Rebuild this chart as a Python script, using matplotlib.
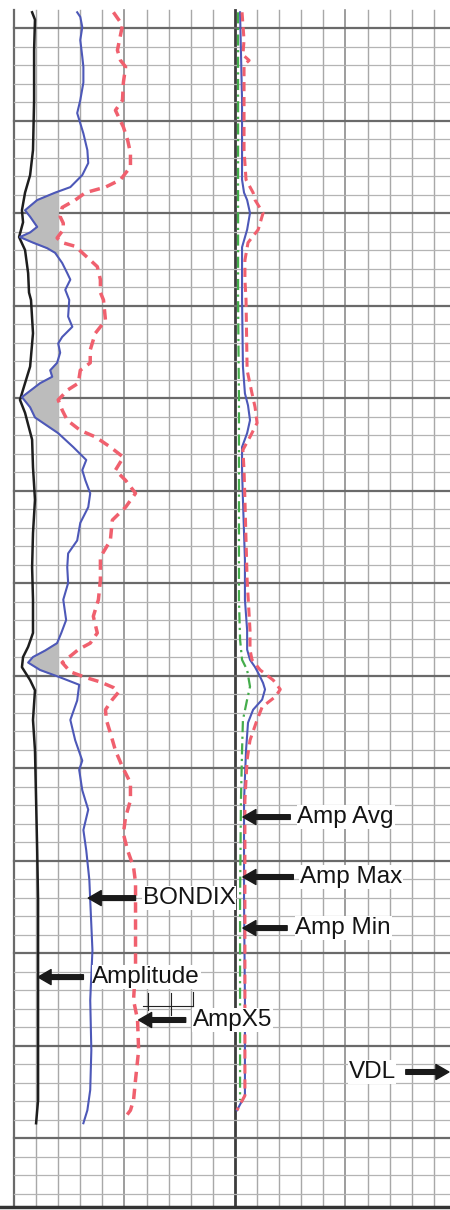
import numpy as np
import matplotlib
matplotlib.use('Agg')
import matplotlib.pyplot as plt

# depth in ft below first heavy line, amplitude in mV (track 1: 0-100, track 2: 0-100)
amp_depth = [-8.5, -4.5, 12, 39, 66, 79.5, 89, 98.5, 105, 113,
             120, 132.5, 143, 147, 165, 183, 195.5, 201, 208, 222.5,
             237.5, 255, 273, 291.5, 309, 327, 334.5, 340, 345.5, 352.5,
             358, 374, 390.5, 417.5, 444.5, 471.5, 525.5, 579.5, 592]
amplitude = [8.2, 9.5, 9.1, 9.1, 8.6, 7.3, 5.0, 3.6, 4.1, 2.3,
             5.0, 6.4, 6.8, 7.7, 8.6, 7.3, 4.1, 2.7, 5.0, 8.2,
             8.6, 9.5, 8.6, 8.2, 8.6, 8.6, 6.4, 4.1, 3.6, 7.3,
             9.5, 8.6, 9.5, 10.0, 10.5, 10.9, 10.9, 10.9, 10.0]

bond_depth = [-8.5, -6, -0.5, 6.5, 15.5, 21, 29.5, 39, 46, 57,
              66, 73, 79.5, 86, 89, 93, 98.5, 102, 107.5, 110.5,
              113, 116, 119, 121.5, 127, 132.5, 136, 141.5, 147, 156,
              161.5, 167, 170.5, 175.5, 181, 185, 188.5, 192, 199.5, 205,
              210.5, 213.5, 219, 226.5, 233.5, 239, 244.5, 251.5, 259, 267.5,
              277, 284, 291.5, 300, 309, 320, 327, 332.5, 336.5, 340,
              343, 347, 351, 355, 363.5, 374, 385, 396, 401, 412,
              417.5, 422.5, 433.5, 444.5, 460.5, 471.5, 498.5, 525.5, 552.5, 574,
              585, 592]
bondix = [28.6, 30.0, 30.9, 30.0, 30.9, 31.4, 31.4, 30.0, 28.6, 31.4,
          33.2, 33.6, 30.9, 25.5, 18.6, 10.5, 5.0, 7.3, 10.5, 7.3,
          2.7, 8.6, 15.0, 18.6, 21.8, 24.1, 25.5, 23.2, 25.0, 24.5,
          26.4, 21.8, 20.0, 20.9, 19.5, 16.4, 17.3, 11.8, 3.6, 7.3,
          9.5, 13.2, 20.0, 26.8, 32.7, 30.9, 32.3, 34.5, 33.6, 30.0,
          28.6, 24.5, 24.1, 24.5, 22.3, 23.6, 21.4, 19.5, 14.1, 8.6,
          6.4, 11.8, 20.9, 29.5, 28.6, 25.5, 27.7, 30.9, 29.5, 30.9,
          32.3, 33.6, 31.4, 32.7, 34.1, 34.5, 35.5, 34.5, 35.0, 34.5,
          33.2, 31.4]
bond_cutoff = 20

x5_depth = [-8.5, -1.5, 12, 17.5, 21, 29.5, 39, 44.5, 48, 53.5,
            60.5, 67.5, 75, 82, 86, 89, 93, 97, 102, 105.5,
            109, 113.5, 116, 118, 124, 129, 136, 143, 147, 158,
            165, 174, 181, 185, 192, 195.5, 201, 206.5, 212, 217.5,
            221, 226.5, 232, 239, 244.5, 251.5, 259, 266, 277, 286,
            298.5, 309, 318, 327, 332.5, 336, 340.5, 343, 348, 351,
            353.5, 356.5, 359, 363, 368.5, 374, 381, 390.5, 399.5, 408,
            417.5, 426.5, 435.5, 444.5, 453.5, 462, 507.5, 525.5, 536, 552.5,
            568.5, 579.5, 585, 588.5]
amp_x5 = [45.0, 49.1, 46.8, 48.2, 50.5, 49.5, 49.1, 45.9, 47.3, 49.5,
          51.4, 52.7, 52.7, 48.2, 41.4, 32.3, 27.7, 21.8, 20.9, 22.3,
          22.3, 19.5, 21.8, 27.7, 33.2, 37.7, 39.1, 39.1, 40.5, 41.4,
          36.8, 34.5, 34.5, 30.0, 29.1, 24.5, 20.0, 21.8, 24.1, 30.0,
          36.8, 43.6, 49.5, 45.9, 50.5, 55.0, 50.5, 44.5, 43.6, 39.1,
          39.1, 38.2, 35.9, 37.7, 34.5, 29.1, 24.5, 21.8, 25.5, 32.3,
          39.1, 45.0, 47.3, 44.5, 41.4, 41.8, 43.6, 45.9, 49.1, 52.7,
          52.7, 50.5, 49.5, 51.4, 54.1, 55.0, 55.0, 54.1, 55.9, 56.4,
          55.0, 54.1, 52.7, 50.5]

min_depth = [-8.5, 39, 87.5, 120, 147, 201, 255, 309, 330.5, 341.5,
             347, 356, 363, 374, 390.5, 417.5, 471.5, 525.5, 579.5]
amp_min = [1.4, 1.4, 1.4, 1.4, 1.4, 1.8, 1.8, 1.8, 2.3, 3.2,
           5.5, 6.8, 5.5, 3.6, 3.2, 2.7, 2.3, 2.3, 2.3]

avg_depth = [-8.5, 39, 77, 82, 89, 93, 100, 109, 118.5, 131,
             147, 183, 197.5, 204, 212, 219, 226.5, 239, 255, 287.5,
             309, 325.5, 336, 341.5, 345.5, 349.5, 354, 357.5, 363, 368.5,
             375.5, 390.5, 417.5, 471.5, 525.5, 577, 585]
amp_avg = [2.3, 3.2, 3.2, 3.2, 4.1, 5.5, 6.8, 5.5, 3.2, 3.2,
           3.2, 3.6, 4.5, 5.9, 6.8, 5.5, 3.2, 3.2, 3.6, 4.5,
           4.5, 5.5, 5.5, 6.8, 9.1, 10.9, 12.7, 13.6, 12.3, 8.2,
           5.9, 5.0, 4.1, 4.1, 4.5, 4.5, 0.9]

max_depth = [-8.5, 6.5, 14.5, 17.5, 20, 39, 66, 82, 89, 93,
             100, 109, 116, 125.5, 136, 147, 185, 197.5, 205, 213.5,
             221, 228, 239, 255, 298.5, 325.5, 336, 341.5, 347, 352.5,
             357.5, 361.5, 367, 374, 385, 395.5, 417.5, 471.5, 525.5, 577,
             585]
amp_max = [3.2, 4.1, 3.6, 6.4, 4.1, 4.1, 4.1, 5.0, 8.2, 9.1,
           12.7, 10.5, 5.9, 4.5, 4.5, 5.0, 5.5, 7.7, 9.1, 10.0,
           6.8, 3.6, 4.1, 4.5, 5.5, 6.8, 6.8, 7.7, 11.4, 17.3,
           20.5, 18.2, 12.3, 10.0, 6.8, 5.5, 4.5, 4.5, 4.5, 4.5,
           0.9]

TRACK2 = 100  # offset of the second track on the shared x axis

fig = plt.figure(figsize=(4.5, 12.1), dpi=100)
ax = fig.add_axes([0, 0, 1, 1])
ax.set_xlim(-6.33, 197.3)
ax.set_ylim(638.9, -15.14)
ax.axis('off')

# grid
for xv in range(0, 200, 10):
    if xv == 100:
        c, w = '#3c3c3c', 2.0
    elif xv == 0:
        c, w = '#6a6a6a', 1.6
    elif xv % 50 == 0:
        c, w = '#8c8c8c', 1.2
    else:
        c, w = '#a8a8a8', 1.0
    ax.plot([xv, xv], [-10, 637.5], color=c, lw=w, zorder=1)
for yv in range(0, 640, 10):
    if yv % 50 == 0:
        c, w = '#6a6a6a', 1.6
    else:
        c, w = '#b4b4b4', 0.9
    ax.plot([0, 197.3], [yv, yv], color=c, lw=w, zorder=1)
ax.plot([-6.33, 197.3], [637.5, 637.5], color='#333333', lw=2.5, zorder=1)

# track 1
bond = np.array(bondix)
ax.fill_betweenx(bond_depth, bond, bond_cutoff, where=bond < bond_cutoff,
                 interpolate=True, color='#bcbcbc', zorder=2)
ax.plot(amplitude, amp_depth, color='#1e1e1e', lw=1.8, zorder=3)
ax.plot(bondix, bond_depth, color='#4d58b8', lw=1.5, zorder=3)
ax.plot(amp_x5, x5_depth, color='#f0606e', lw=2.5, dashes=(3, 1.9), zorder=3)

# track 2
ax.plot(np.array(amp_min) + TRACK2, min_depth, color='#45ad4c', lw=1.6,
        dashes=(5, 2, 1, 2), zorder=3)
ax.plot(np.array(amp_avg) + TRACK2, avg_depth, color='#4d58b8', lw=1.5, zorder=4)
ax.plot(np.array(amp_max) + TRACK2, max_depth, color='#f0606e', lw=2.2,
        dashes=(3, 1.9), zorder=4)

# labels with arrows: (text, text x, arrow tip x, arrow tail x, depth)
labels = [
    ('BONDIX', 58.2, 33.6, 55.0, 470.3),
    ('Amp Avg', 128.2, 103.6, 125.0, 426.5),
    ('Amp Max', 129.5, 103.6, 126.4, 458.9),
    ('Amp Min', 127.3, 103.6, 123.6, 486.5),
    ('Amplitude', 35.5, 10.9, 31.4, 513.0),
    ('AmpX5', 80.9, 56.4, 77.7, 536.2),
]
arrow_style = 'simple,head_length=0.78,head_width=0.9,tail_width=0.28'
for txt, tx, tip, tail, d in labels:
    ax.text(tx, d, txt, fontsize=17.5, family=['Liberation Sans', 'DejaVu Sans'],
            color='#141414', ha='left', va='center', zorder=6,
            bbox=dict(facecolor='white', edgecolor='none', pad=0.5))
    ax.annotate('', xy=(tip, d), xytext=(tail, d), zorder=7,
                arrowprops=dict(arrowstyle=arrow_style, color='#1a1a1a',
                                mutation_scale=12, shrinkA=0, shrinkB=0))

ax.text(151.4, 564.3, 'VDL', fontsize=17.5, family=['Liberation Sans', 'DejaVu Sans'],
        color='#141414', ha='left', va='center', zorder=6,
        bbox=dict(facecolor='white', edgecolor='none', pad=0.5))
ax.annotate('', xy=(196.8, 564.3), xytext=(177.3, 564.3), zorder=7,
            arrowprops=dict(arrowstyle=arrow_style, color='#1a1a1a',
                            mutation_scale=12, shrinkA=0, shrinkB=0))

# small bracket under Amplitude label
ax.plot([60.5, 60.5], [521.6, 530.8], color='#222222', lw=0.8, zorder=6)
ax.plot([58.6, 80.9], [528.6, 528.6], color='#222222', lw=0.8, zorder=6)
ax.plot([70.9, 70.9], [521.6, 533.5], color='#222222', lw=0.8, zorder=6)
ax.plot([80.9, 80.9], [521.1, 528.6], color='#222222', lw=0.8, zorder=6)

fig.savefig('out.png', dpi=100, facecolor='white')
